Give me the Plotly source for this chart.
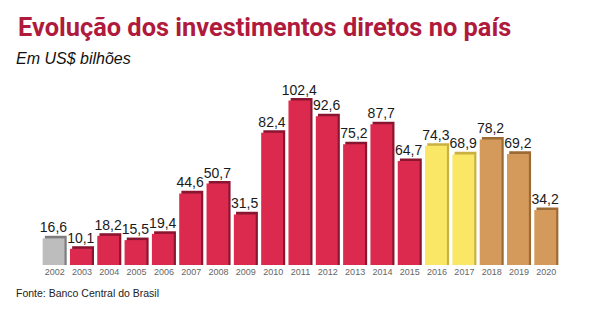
import plotly.graph_objects as go

years = ["2002","2003","2004","2005","2006","2007","2008","2009","2010","2011",
         "2012","2013","2014","2015","2016","2017","2018","2019","2020"]
values = [16.6,10.1,18.2,15.5,19.4,44.6,50.7,31.5,82.4,102.4,
          92.6,75.2,87.7,64.7,74.3,68.9,78.2,69.2,34.2]
labels = [f"{v:.1f}".replace(".", ",") for v in values]

def face(y):
    if y == "2002": return "#bdbdbd"
    if int(y) <= 2015: return "#dc2a4e"
    if int(y) <= 2017: return "#f9e765"
    return "#d49a5c"

def side(y):
    if y == "2002": return "#7d7d7d"
    if int(y) <= 2015: return "#8a1530"
    if int(y) <= 2017: return "#c9b040"
    return "#9c6a35"

faces = [face(y) for y in years]
sides = [side(y) for y in years]

L, R, T, B = 41, 29, 90, 57
W, H = 589, 322
pw, ph = W - L - R, H - T - B

def px(x):  # figure pixel -> paper x
    return (x - L) / pw

def py(y):  # figure pixel (from top) -> paper y
    return (H - B - y) / ph

fig = go.Figure()
fig.add_trace(go.Bar(x=years, y=[v + 1.6 for v in values], width=0.8, offset=-0.36,
                     marker=dict(color=sides, line=dict(width=0)), hoverinfo="skip"))
fig.add_trace(go.Bar(x=years, y=values, width=0.8, offset=-0.44,
                     marker=dict(color=faces, line=dict(width=0)),
                     text=labels, textposition="outside", cliponaxis=False,
                     constraintext="none",
                     textfont=dict(size=14, color="#1a1a1a", family="Liberation Sans")))

fig.update_layout(
    width=W, height=H, barmode="overlay", showlegend=False,
    paper_bgcolor="white", plot_bgcolor="white",
    margin=dict(l=L, r=R, t=T, b=B),
    xaxis=dict(showgrid=False, showline=False, ticks="", zeroline=False,
               tickfont=dict(size=9, color="#666666", family="Liberation Sans")),
    yaxis=dict(range=[0, 109], visible=False),
    annotations=[
        dict(text="<b>Evolução dos investimentos diretos no país</b>", x=px(16), y=py(10),
             xref="paper", yref="paper", xanchor="left", yanchor="top", showarrow=False,
             font=dict(size=25.4, color="#b01a3c", family="Roboto")),
        dict(text="<i>Em US$ bilhões</i>", x=px(14), y=py(48),
             xref="paper", yref="paper", xanchor="left", yanchor="top", showarrow=False,
             font=dict(size=16, color="#111111", family="Liberation Sans")),
        dict(text="Fonte: Banco Central do Brasil", x=px(14), y=py(285),
             xref="paper", yref="paper", xanchor="left", yanchor="top", showarrow=False,
             font=dict(size=10.5, color="#222222", family="Liberation Sans")),
    ],
)
fig.write_html("out.html")
